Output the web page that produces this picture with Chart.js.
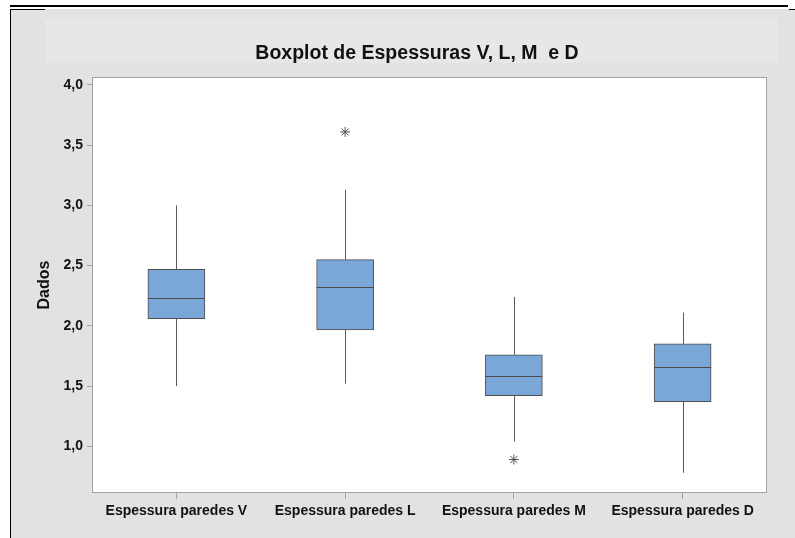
<!DOCTYPE html>
<html>
<head>
    <title>Boxplot de Espessuras</title>
    <style>
        html, body {
            margin: 0;
            padding: 0;
            background: #ffffff;
        }
        #chart-container {
            width: 795px;
            height: 538px;
        }
    </style>
</head>
<body>
<div id="chart-container">
    <canvas id="boxChart" width="795" height="538"></canvas>
</div>

<script src="https://cdn.jsdelivr.net/npm/chart.js"></script>

<script>
    // data
    const categories = ['Espessura paredes V', 'Espessura paredes L', 'Espessura paredes M', 'Espessura paredes D'];
    const whiskerLow = [1.50, 1.52, 1.04, 0.78];
    const q1 = [2.06, 1.965, 1.42, 1.37];
    const medians = [2.23, 2.32, 1.58, 1.66];
    const q3 = [2.47, 2.55, 1.76, 1.85];
    const whiskerHigh = [3.00, 3.13, 2.24, 2.11];
    const outlierCats = ['Espessura paredes L', 'Espessura paredes M'];
    const outlierVals = [3.61, 0.89];
    const yTicks = [1.0, 1.5, 2.0, 2.5, 3.0, 3.5, 4.0];
    const chartTitle = 'Boxplot de Espessuras V, L, M  e D';

    const FONT = "'Liberation Sans', Arial, sans-serif";

    // frame, grey panel, title and white plot area
    const backdrop = {
        id: 'backdrop',
        beforeDraw(chart) {
            const c = chart.ctx;
            const a = chart.chartArea;
            c.save();
            c.fillStyle = '#ffffff';
            c.fillRect(0, 0, chart.width, chart.height);
            c.fillStyle = '#e2e2e2';
            c.fillRect(11, 9, chart.width - 11, chart.height - 9);
            c.fillStyle = '#e7e7e7';
            c.fillRect(45, 19, 733, 44);
            c.fillStyle = '#000000';
            c.fillRect(10, 5, 778, 2);
            c.fillRect(10, 9, 1, chart.height - 9);
            c.fillRect(10, 9, 35, 1);
            c.fillRect(789, 9, 6, 1);

            // title is centred on the panel, not on the plot, so it is drawn here
            c.fillStyle = '#111111';
            c.font = 'bold 19.5px ' + FONT;
            c.textAlign = 'center';
            c.textBaseline = 'middle';
            c.fillText(chartTitle, 417, 53.5);

            c.fillStyle = '#ffffff';
            c.fillRect(a.left, a.top, a.right - a.left, a.bottom - a.top);
            c.strokeStyle = '#a3a3a3';
            c.lineWidth = 1;
            c.strokeRect(a.left + 0.5, a.top + 0.5, a.right - a.left - 1, a.bottom - a.top - 1);
            c.restore();
        }
    };

    // whiskers behind the boxes, medians on top
    const boxParts = {
        id: 'boxParts',
        beforeDatasetsDraw(chart) {
            const c = chart.ctx;
            const xs = chart.scales.x, ys = chart.scales.y;
            c.save();
            c.strokeStyle = '#5a5a5a';
            c.lineWidth = 1;
            categories.forEach((cat, i) => {
                const x = Math.round(xs.getPixelForValue(i)) + 0.5;
                c.beginPath();
                c.moveTo(x, ys.getPixelForValue(whiskerHigh[i]));
                c.lineTo(x, ys.getPixelForValue(q3[i]));
                c.moveTo(x, ys.getPixelForValue(q1[i]));
                c.lineTo(x, ys.getPixelForValue(whiskerLow[i]));
                c.stroke();
            });
            c.restore();
        },
        afterDatasetsDraw(chart) {
            const c = chart.ctx;
            const ys = chart.scales.y;
            const meta = chart.getDatasetMeta(0);
            c.save();
            c.strokeStyle = '#4a4a4a';
            c.lineWidth = 1;
            categories.forEach((cat, i) => {
                const bar = meta.data[i];
                const y = Math.round(ys.getPixelForValue(medians[i])) + 0.5;
                c.beginPath();
                c.moveTo(bar.x - bar.width / 2, y);
                c.lineTo(bar.x + bar.width / 2, y);
                c.stroke();
            });
            c.restore();
        }
    };

    const ctx = document.getElementById('boxChart').getContext('2d');

    new Chart(ctx, {
        type: 'bar',
        data: {
            labels: categories,
            datasets: [{
                label: 'caixa',
                data: q1.map((v, i) => [v, q3[i]]),
                backgroundColor: '#7ba6d8',
                borderColor: '#4d4d4d',
                borderWidth: 1,
                borderSkipped: false,
                barThickness: 57,
                grouped: false,
                order: 1
            }, {
                type: 'line',
                label: 'outliers',
                data: outlierCats.map((c, i) => ({x: c, y: outlierVals[i]})),
                showLine: false,
                pointStyle: 'star',
                pointRadius: 5,
                pointBorderColor: '#555555',
                pointBorderWidth: 1,
                order: 0
            }]
        },
        options: {
            responsive: false,
            animation: false,
            layout: {
                padding: {left: 11, right: 28, top: 77, bottom: 0}
            },
            plugins: {
                legend: {display: false},
                tooltip: {enabled: false},
                title: {display: false}
            },
            scales: {
                x: {
                    offset: true,
                    afterFit: axis => { axis.height = 45; },
                    grid: {
                        offset: false,
                        drawOnChartArea: false,
                        tickLength: 6,
                        color: '#a3a3a3'
                    },
                    border: {display: false},
                    ticks: {
                        color: '#111111',
                        padding: 4,
                        maxRotation: 0,
                        font: {family: FONT, size: 14, weight: 'bold'}
                    }
                },
                y: {
                    min: 0.612,
                    max: 4.066,
                    afterFit: axis => { axis.width = 81; },
                    afterBuildTicks: axis => { axis.ticks = yTicks.map(v => ({value: v})); },
                    grid: {
                        drawOnChartArea: false,
                        tickLength: 5,
                        color: '#a3a3a3'
                    },
                    border: {display: false},
                    ticks: {
                        color: '#111111',
                        padding: 4,
                        font: {family: FONT, size: 14, weight: 'bold'},
                        callback: v => v.toFixed(1).replace('.', ',')
                    },
                    title: {
                        display: true,
                        text: 'Dados',
                        color: '#111111',
                        font: {family: FONT, size: 16, weight: 'bold'},
                        padding: {top: 24, bottom: 0}
                    }
                }
            }
        },
        plugins: [backdrop, boxParts]
    });
</script>
</body>
</html>
